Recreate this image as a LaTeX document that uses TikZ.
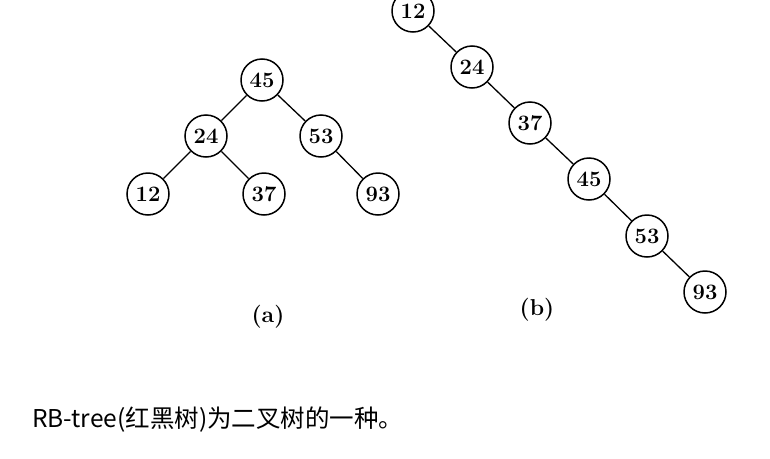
\documentclass[tikz,border=0pt]{standalone}
\usepackage{fontspec}
\newfontfamily\cjk{Noto Sans CJK SC}
\usetikzlibrary{positioning}

\tikzset{
    vert/.style={circle, draw, line width=1.5pt, minimum size=42pt, inner sep=0pt,
        font=\fontsize{22}{22}\selectfont\bfseries},
    link/.style={line width=1.3pt},
    caption/.style={font=\fontsize{23}{23}\selectfont\bfseries}
}

\begin{document}
\begin{tikzpicture}[x=1pt, y=-1pt, on grid]
    \useasboundingbox (0,0) rectangle (770,458);

    % Nodes (a)
    \node[vert] (a45) at (262,80) {45};
    \node[vert, below left=56pt and 56pt of a45] (a24) {24};
    \node[vert, below right=56pt and 59pt of a45] (a53) {53};
    \node[vert, below left=58pt and 58pt of a24] (a12) {12};
    \node[vert, below right=58pt and 58pt of a24] (a37) {37};
    \node[vert, below right=58pt and 57pt of a53] (a93) {93};

    % Nodes (b)
    \node[vert] (b12) at (413,11) {12};
    \node[vert, below right=56pt and 59pt of b12] (b24) {24};
    \node[vert, below right=56pt and 58pt of b24] (b37) {37};
    \node[vert, below right=56pt and 59pt of b37] (b45) {45};
    \node[vert, below right=57pt and 58pt of b45] (b53) {53};
    \node[vert, below right=56pt and 58pt of b53] (b93) {93};

    % Edges
    \draw[link] (a45) -- (a24);
    \draw[link] (a45) -- (a53);
    \draw[link] (a24) -- (a12);
    \draw[link] (a24) -- (a37);
    \draw[link] (a53) -- (a93);
    \draw[link] (b12) -- (b24);
    \draw[link] (b24) -- (b37);
    \draw[link] (b37) -- (b45);
    \draw[link] (b45) -- (b53);
    \draw[link] (b53) -- (b93);

    % Captions
    \node[caption] (capa) at (268,317) {(a)};
    \node[caption] (capb) at (537,310) {(b)};
    \node[anchor=west, inner sep=0pt, font=\cjk\fontsize{24.5}{24.5}\selectfont] (note) at (32,420) {RB-tree(红黑树)为二叉树的一种。};
\end{tikzpicture}
\end{document}
